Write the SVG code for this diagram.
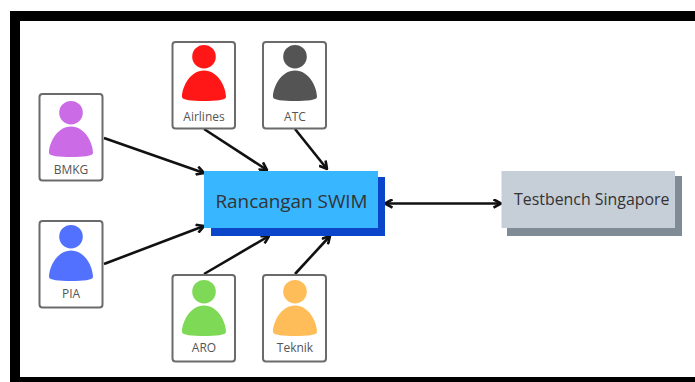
<svg xmlns="http://www.w3.org/2000/svg" width="695" height="382" viewBox="0 0 695 382">
<style>
.card{fill:#fff;stroke:#6b6b6b;stroke-width:2}
.lbl{font-family:"Open Sans","Noto Sans",sans-serif;font-size:12px;fill:#555;text-anchor:middle}
.big{font-family:"Open Sans","Noto Sans",sans-serif;fill:#333}
.c{fill:none;stroke:#111;stroke-width:2.6}
</style>
<defs>
<marker id="a" viewBox="0 0 10 10" refX="9" refY="5" markerWidth="10" markerHeight="10" markerUnits="userSpaceOnUse" orient="auto-start-reverse">
<path d="M1.500 0.800L9 5L1.500 9.200" fill="none" stroke="#111" stroke-width="2.600"/>
</marker>
<path id="p" d="M0 -21.500A11.800 11.800 0 1 1 0 -45.100A11.800 11.800 0 1 1 0 -21.500ZM0 -19.500C14 -19.500 22 -3 22 7C22 10 12 11 0 11C-12 11 -22 10 -22 7C-22 -3 -14 -19.500 0 -19.500Z"/>
</defs>
<rect width="695" height="382" fill="#fff"/>
<path d="M10 382V11H695V21H20V377H695V382Z" fill="#000"/>
<g id="connectors">
<path class="c" marker-end="url(#a)" d="M104 138L204 173"/>
<path class="c" marker-end="url(#a)" d="M204 129L267 170"/>
<path class="c" marker-end="url(#a)" d="M295 129L327 169"/>
<path class="c" marker-end="url(#a)" d="M104 264L204 226"/>
<path class="c" marker-end="url(#a)" d="M204 274L269 236"/>
<path class="c" marker-end="url(#a)" d="M295 274L330 236"/>
<path class="c" marker-start="url(#a)" marker-end="url(#a)" d="M385 203.500L501 203.500"/>
</g>
<g id="bmkg"><rect class="card" x="39.500" y="94" width="63" height="86.500" rx="3"/><use href="#p" x="71" y="146" fill="#cb6ce6"/><text class="lbl" x="71" y="174">BMKG</text></g>
<g id="airlines"><rect class="card" x="172.500" y="42" width="62.500" height="86.500" rx="3"/><use href="#p" x="204" y="90" fill="#ff1616"/><text class="lbl" x="204" y="121">Airlines</text></g>
<g id="atc"><rect class="card" x="263" y="42" width="63" height="86.500" rx="3"/><use href="#p" x="295" y="90" fill="#545454"/><text class="lbl" x="295" y="121">ATC</text></g>
<g id="pia"><rect class="card" x="39.500" y="221" width="63" height="86.500" rx="3"/><use href="#p" x="71" y="270" fill="#5271ff"/><text class="lbl" x="71" y="298">PIA</text></g>
<g id="aro"><rect class="card" x="172.500" y="275" width="62.500" height="86.500" rx="3"/><use href="#p" x="204" y="325" fill="#7ed957"/><text class="lbl" x="204" y="352">ARO</text></g>
<g id="teknik"><rect class="card" x="263" y="275" width="63" height="86.500" rx="3"/><use href="#p" x="295" y="325" fill="#ffbd59"/><text class="lbl" x="295" y="352">Teknik</text></g>
<g id="swim"><rect x="211" y="177" width="174" height="59" fill="#0b45c9"/><rect x="204" y="171" width="174" height="57" fill="#38b6ff"/><text class="big" x="291.500" y="208" font-size="18.900" text-anchor="middle" fill="#1f3a4d">Rancangan SWIM</text></g>
<g id="testbench"><rect x="507" y="176" width="175" height="60" fill="#7f8b95"/><rect x="501.500" y="171" width="173.500" height="57" fill="#c6ced8"/><text class="big" x="514" y="205" font-size="15.900">Testbench Singapore</text></g>
</svg>
